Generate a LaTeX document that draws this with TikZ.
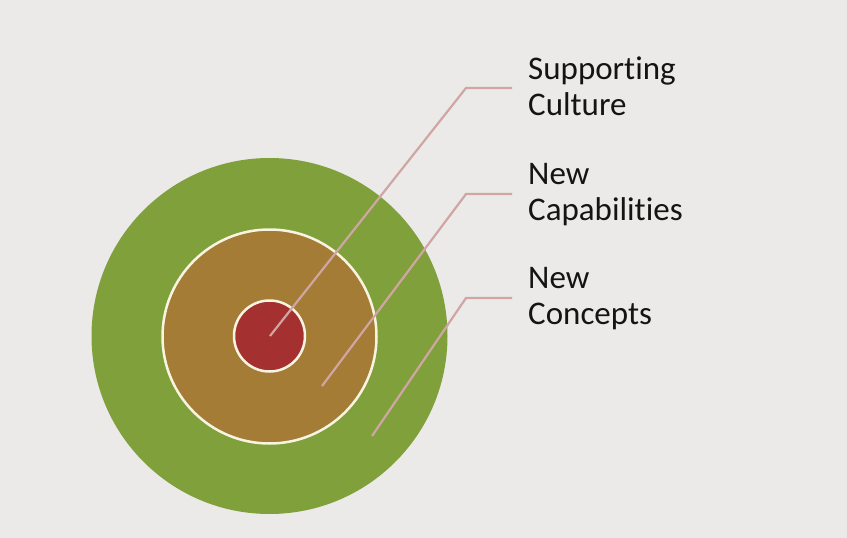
\documentclass[tikz,border=0pt]{standalone}
\usepackage{fontspec}
\setmainfont[Ligatures=NoCommon]{Carlito}
\definecolor{bg}{RGB}{235,234,232}
\definecolor{ringgreen}{RGB}{128,160,60}
\definecolor{ringorange}{RGB}{165,124,54}
\definecolor{ringred}{RGB}{164,48,47}
\definecolor{leader}{RGB}{208,166,164}
\definecolor{ringedge}{RGB}{248,244,226}
\begin{document}
\begin{tikzpicture}[x=1pt,y=-1pt,
  ring/.style={circle,inner sep=0pt,minimum size=#1},
  leaderline/.style={draw=leader,line width=2.2pt},
  label/.style={anchor=base west,align=left,inner sep=0pt,font=\fontsize{33}{36}\selectfont,text=black!92}]
\fill[bg] (0,0) rectangle (847,538);
\useasboundingbox (0,0) rectangle (847,538);
\node[ring=356pt,fill=ringgreen] (outer) at (269.5,336) {};
\node[ring=214pt,fill=ringorange,draw=ringedge,line width=2.5pt] (middle) at (269.5,336.5) {};
\node[ring=71pt,fill=ringred,draw=ringedge,line width=2.5pt] (inner) at (269.5,336) {};
\coordinate (p1) at (270,336);
\coordinate (p2) at (322,386);
\coordinate (p3) at (372,436);
\coordinate (k1) at (466,88);
\coordinate (k2) at (466,194);
\coordinate (k3) at (466,298);
\coordinate (e1) at (512,88);
\coordinate (e2) at (512,194);
\coordinate (e3) at (512,298);
\draw[leaderline] (p1) -- (k1) -- (e1);
\draw[leaderline] (p2) -- (k2) -- (e2);
\draw[leaderline] (p3) -- (k3) -- (e3);
\node[label] (t1) at (528,115) {Supporting\\Culture};
\node[label] (t2) at (528,220) {New\\Capabilities};
\node[label] (t3) at (528,324) {New\\Concepts};
\end{tikzpicture}
\end{document}
